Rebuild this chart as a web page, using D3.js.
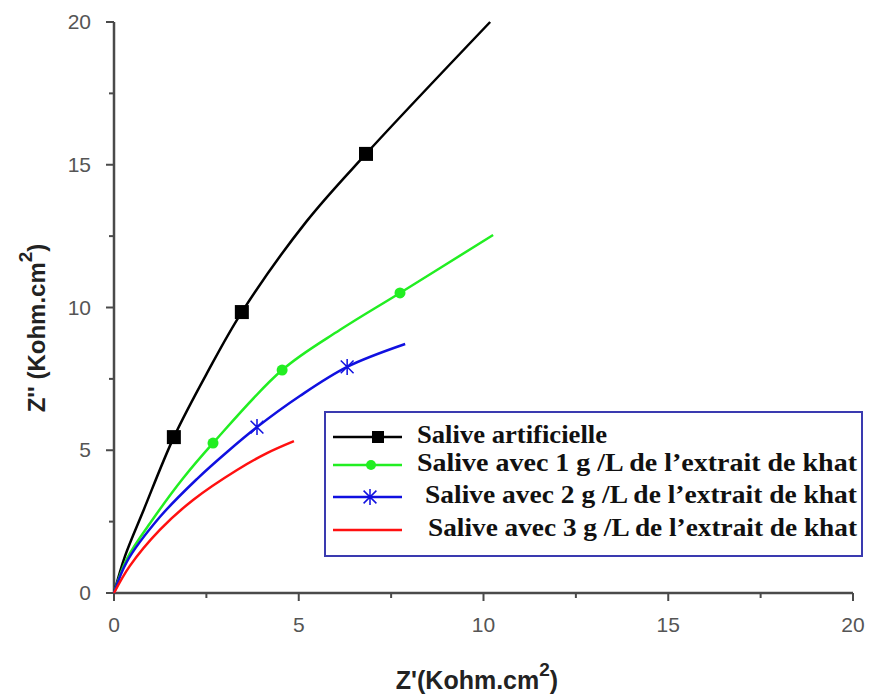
<!DOCTYPE html>
<html>
<head>
<meta charset="utf-8">
<script src="https://cdn.jsdelivr.net/npm/d3@7"></script>
<style>
  body { margin: 0; background: #fff; }
  svg { display: block; }
</style>
</head>
<body>
<div id="chart"></div>
<script>
// Nyquist curves (Z' and Z'' in Kohm.cm2)
var artificielleX = [0, 0.3, 0.8, 1.62, 2.52, 3.46, 5.2, 6.82, 10.18];
var artificielleY = [0, 1.3, 2.9, 5.46, 7.71, 9.84, 13.0, 15.38, 20.0];
var artificielleMarks = [3, 5, 7];

var khat1X = [0, 0.35, 1.06, 1.87, 2.68, 4.55, 6.12, 7.74, 10.26];
var khat1Y = [0, 1.2, 2.6, 4.02, 5.25, 7.81, 9.22, 10.51, 12.54];
var khat1Marks = [4, 5, 7];

var khat2X = [0, 0.35, 1.24, 2.25, 3.06, 3.87, 5.03, 6.31, 7.88];
var khat2Y = [0, 1.1, 2.66, 4.0, 4.94, 5.81, 6.9, 7.92, 8.72];
var khat2Marks = [5, 7];

var khat3X = [0, 0.43, 1.24, 2.14, 3.33, 4.14, 4.87];
var khat3Y = [0, 0.95, 2.21, 3.26, 4.31, 4.9, 5.32];
var khat3Marks = [];

var seriesNames = [
  "Salive artificielle",
  "Salive avec 1 g /L de l\u2019extrait de khat",
  "Salive avec 2 g /L de l\u2019extrait de khat",
  "Salive avec 3 g /L de l\u2019extrait de khat"
];
var seriesColors = ["#000000", "#22ee22", "#1010e0", "#ff1010"];
var seriesSymbols = ["square", "circle", "star", "none"];

var xTicks = [0, 5, 10, 15, 20];
var yTicks = [0, 5, 10, 15, 20];

function pairUp(xs, ys) {
  return xs.map(function (v, i) { return { x: v, y: ys[i] }; });
}

var series = [
  { pts: pairUp(artificielleX, artificielleY), marks: artificielleMarks },
  { pts: pairUp(khat1X, khat1Y), marks: khat1Marks },
  { pts: pairUp(khat2X, khat2Y), marks: khat2Marks },
  { pts: pairUp(khat3X, khat3Y), marks: khat3Marks }
];

var width = 875, height = 697;
var svg = d3.select("#chart").append("svg")
  .attr("width", width)
  .attr("height", height);

var x = d3.scaleLinear().domain([0, 20]).range([114, 853]);
var y = d3.scaleLinear().domain([0, 20]).range([593, 22]);

var axisColor = "#4a4a4a";
var sans = "Liberation Sans, Arial, sans-serif";

// minor ticks every 2.5
var minor = d3.range(0, 20.01, 2.5).filter(function (v) { return v % 5 !== 0; });

// x axis
var gx = svg.append("g").attr("transform", "translate(0," + y(0) + ")");
gx.append("line").attr("x1", x(0) - 1).attr("x2", x(20)).attr("stroke", axisColor).attr("stroke-width", 2.5);
gx.selectAll(".maj").data(xTicks).enter().append("line")
  .attr("x1", function (d) { return x(d); }).attr("x2", function (d) { return x(d); })
  .attr("y1", 0).attr("y2", 8).attr("stroke", axisColor).attr("stroke-width", 2);
gx.selectAll(".min").data(minor).enter().append("line")
  .attr("x1", function (d) { return x(d); }).attr("x2", function (d) { return x(d); })
  .attr("y1", 0).attr("y2", 5).attr("stroke", axisColor).attr("stroke-width", 2);
gx.selectAll("text").data(xTicks).enter().append("text")
  .attr("x", function (d) { return x(d); }).attr("y", 39)
  .attr("text-anchor", "middle")
  .attr("font-family", sans)
  .attr("font-size", 21).attr("fill", "#555")
  .text(function (d) { return d; });

// y axis
var gy = svg.append("g").attr("transform", "translate(" + x(0) + ",0)");
gy.append("line").attr("y1", y(0) + 1).attr("y2", y(20)).attr("stroke", axisColor).attr("stroke-width", 2.5);
gy.selectAll(".maj").data(yTicks).enter().append("line")
  .attr("y1", function (d) { return y(d); }).attr("y2", function (d) { return y(d); })
  .attr("x1", 0).attr("x2", -8).attr("stroke", axisColor).attr("stroke-width", 2);
gy.selectAll(".min").data(minor).enter().append("line")
  .attr("y1", function (d) { return y(d); }).attr("y2", function (d) { return y(d); })
  .attr("x1", 0).attr("x2", -5).attr("stroke", axisColor).attr("stroke-width", 2);
gy.selectAll("text").data(yTicks).enter().append("text")
  .attr("x", -23).attr("y", function (d) { return y(d) + 7; })
  .attr("text-anchor", "end")
  .attr("font-family", sans)
  .attr("font-size", 21).attr("fill", "#555")
  .text(function (d) { return d; });

// axis titles
var xt = svg.append("text")
  .attr("x", 477).attr("y", 689)
  .attr("text-anchor", "middle")
  .attr("font-family", sans)
  .attr("font-weight", "bold").attr("font-size", 25).attr("fill", "#222");
xt.append("tspan").text("Z'(Kohm.cm");
xt.append("tspan").attr("dy", -13).attr("font-size", 19).text("2");
xt.append("tspan").attr("dy", 13).text(")");

var yt = svg.append("text")
  .attr("transform", "translate(45,328) rotate(-90)")
  .attr("text-anchor", "middle")
  .attr("font-family", sans)
  .attr("font-weight", "bold").attr("font-size", 24).attr("fill", "#222");
yt.append("tspan").text("Z'' (Kohm.cm");
yt.append("tspan").attr("dy", -13).attr("font-size", 19).text("2");
yt.append("tspan").attr("dy", 13).text(")");

var line = d3.line()
  .x(function (d) { return x(d.x); })
  .y(function (d) { return y(d.y); })
  .curve(d3.curveCatmullRom.alpha(0.5));

function drawSymbol(g, kind, cx, cy, color, big) {
  if (kind === "square") {
    var s = big ? 14 : 12;
    g.append("rect").attr("x", cx - s / 2).attr("y", cy - s / 2)
      .attr("width", s).attr("height", s).attr("fill", color);
  } else if (kind === "circle") {
    g.append("circle").attr("cx", cx).attr("cy", cy).attr("r", big ? 5.5 : 5).attr("fill", color);
  } else if (kind === "star") {
    var r = 8;
    g.append("path")
      .attr("d", "M" + (cx - r * 0.8) + "," + (cy - r * 0.8) + "L" + (cx + r * 0.8) + "," + (cy + r * 0.8) +
        "M" + (cx - r * 0.8) + "," + (cy + r * 0.8) + "L" + (cx + r * 0.8) + "," + (cy - r * 0.8) +
        "M" + cx + "," + (cy - r) + "L" + cx + "," + (cy + r))
      .attr("stroke", color).attr("stroke-width", 1.5).attr("fill", "none");
  }
}

// curves
series.forEach(function (s, i) {
  var g = svg.append("g");
  g.append("path").datum(s.pts)
    .attr("d", line)
    .attr("fill", "none")
    .attr("stroke", seriesColors[i])
    .attr("stroke-width", 2.5);
  s.marks.forEach(function (k) {
    drawSymbol(g, seriesSymbols[i], x(s.pts[k].x), y(s.pts[k].y), seriesColors[i], true);
  });
});

// legend
var legend = svg.append("g");
legend.append("rect")
  .attr("x", 325).attr("y", 412).attr("width", 537).attr("height", 144)
  .attr("fill", "#fff").attr("stroke", "#3a3ab0").attr("stroke-width", 2);

var rowY = [437, 465, 497, 530];
var textX = [417, 417, 425, 428];
var textW = [190, 440, 432, 429];
var symX = [378, 371, 370, 370];
seriesNames.forEach(function (name, i) {
  var cy = rowY[i];
  legend.append("line").attr("x1", 333).attr("x2", 402)
    .attr("y1", cy).attr("y2", cy)
    .attr("stroke", seriesColors[i]).attr("stroke-width", 2.5);
  drawSymbol(legend, seriesSymbols[i], symX[i], cy, seriesColors[i], false);
  legend.append("text")
    .attr("x", textX[i]).attr("y", cy + 6)
    .attr("font-family", "Liberation Serif, Times New Roman, serif")
    .attr("font-weight", "bold").attr("font-size", 26).attr("fill", "#111")
    .attr("textLength", textW[i]).attr("lengthAdjust", "spacingAndGlyphs")
    .text(name);
});
</script>
</body>
</html>
